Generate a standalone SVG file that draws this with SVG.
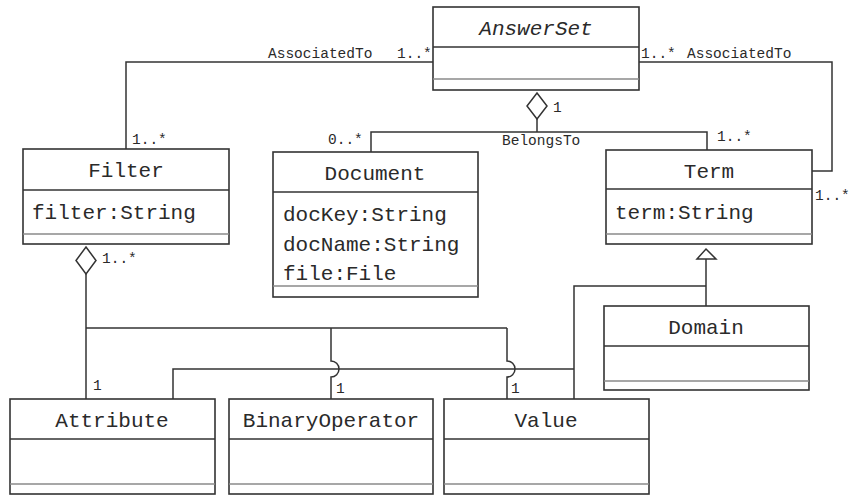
<svg xmlns="http://www.w3.org/2000/svg" width="850" height="496" viewBox="0 0 850 496">
  <style>
    .box { fill: #ffffff; stroke: #333333; stroke-width: 1.6; }
    .div { stroke: #333333; stroke-width: 1.4; }
    .ops { stroke: #8a8a8a; stroke-width: 1.4; }
    .title { font-family: "Liberation Mono", "DejaVu Sans Mono", monospace; font-size: 21px; fill: #2a2a2a; text-anchor: middle; }
    .attr { font-family: "Liberation Mono", "DejaVu Sans Mono", monospace; font-size: 21px; fill: #2a2a2a; }
    .lbl { font-family: "Liberation Mono", "DejaVu Sans Mono", monospace; font-size: 14.5px; fill: #2a2a2a; }
    .edge { fill: none; stroke: #333333; stroke-width: 1.5; }
    .agg { fill: #ffffff; stroke: #333333; stroke-width: 1.5; }
  </style>

  <rect width="850" height="496" fill="#ffffff"/>

  <!-- connectors -->
  <g id="connectors">
    <!-- Filter - AnswerSet association -->
    <path class="edge" d="M126,149 V62 H433"/>
    <!-- AnswerSet - Term association -->
    <path class="edge" d="M639,62 H832 V171 H812"/>
    <!-- BelongsTo aggregation -->
    <path class="edge" d="M537,119 V132"/>
    <path class="edge" d="M371,152 V132 H707 V150"/>
    <polygon class="agg" points="537,93 547,106 537,119 527,106"/>
    <!-- Filter aggregation of Attribute, BinaryOperator, Value -->
    <path class="edge" d="M86,274 V399"/>
    <path class="edge" d="M86,328 H507"/>
    <path class="edge" d="M331,328 V361 A8,8 0 0 1 331,377 V399"/>
    <path class="edge" d="M507,328 V361 A8,8 0 0 1 507,377 V399"/>
    <polygon class="agg" points="86,247 96,260.5 86,274 76,260.5"/>
    <!-- generalization to Term -->
    <path class="edge" d="M706,259 V306"/>
    <path class="edge" d="M706,286 H574 V399"/>
    <path class="edge" d="M574,369 H173 V399"/>
    <polygon class="agg" points="706,249 716,259 697,259"/>

    <!-- multiplicities and role names -->
    <text class="lbl" x="268" y="58">AssociatedTo</text>
    <text class="lbl" x="397" y="58">1..*</text>
    <text class="lbl" x="641" y="58">1..*</text>
    <text class="lbl" x="687" y="58">AssociatedTo</text>
    <text class="lbl" x="132" y="144">1..*</text>
    <text class="lbl" x="328" y="144">0..*</text>
    <text class="lbl" x="553" y="112">1</text>
    <text class="lbl" x="502" y="145">BelongsTo</text>
    <text class="lbl" x="717" y="141">1..*</text>
    <text class="lbl" x="815" y="200">1..*</text>
    <text class="lbl" x="102" y="263">1..*</text>
    <text class="lbl" x="93" y="390">1</text>
    <text class="lbl" x="336" y="393">1</text>
    <text class="lbl" x="511" y="393">1</text>
  </g>

  <g id="AnswerSet">
    <rect class="box" x="433" y="7" width="206" height="83"/>
    <line class="div" x1="433" y1="47" x2="639" y2="47"/>
    <line class="ops" x1="433" y1="79" x2="639" y2="79"/>
    <text class="title" x="536" y="35" font-style="italic">AnswerSet</text>
  </g>

  <g id="Filter">
    <rect class="box" x="23" y="149" width="206" height="95"/>
    <line class="div" x1="23" y1="190" x2="229" y2="190"/>
    <line class="ops" x1="23" y1="234" x2="229" y2="234"/>
    <text class="title" x="126" y="177">Filter</text>
    <text class="attr" x="32" y="219">filter:String</text>
  </g>

  <g id="Document">
    <rect class="box" x="273" y="152" width="205" height="145"/>
    <line class="div" x1="273" y1="192" x2="478" y2="192"/>
    <line class="ops" x1="273" y1="286" x2="478" y2="286"/>
    <text class="title" x="375" y="180">Document</text>
    <text class="attr" x="283" y="221">docKey:String</text>
    <text class="attr" x="283" y="251">docName:String</text>
    <text class="attr" x="283" y="280">file:File</text>
  </g>

  <g id="Term">
    <rect class="box" x="606" y="150" width="206" height="94"/>
    <line class="div" x1="606" y1="189" x2="812" y2="189"/>
    <line class="ops" x1="606" y1="234" x2="812" y2="234"/>
    <text class="title" x="709" y="178">Term</text>
    <text class="attr" x="615" y="219">term:String</text>
  </g>

  <g id="Domain">
    <rect class="box" x="604" y="306" width="205" height="84"/>
    <line class="div" x1="604" y1="346" x2="809" y2="346"/>
    <line class="ops" x1="604" y1="381" x2="809" y2="381"/>
    <text class="title" x="706" y="334">Domain</text>
  </g>

  <g id="Attribute">
    <rect class="box" x="10" y="399" width="205" height="95"/>
    <line class="div" x1="10" y1="439" x2="215" y2="439"/>
    <line class="ops" x1="10" y1="484" x2="215" y2="484"/>
    <text class="title" x="112" y="427">Attribute</text>
  </g>

  <g id="BinaryOperator">
    <rect class="box" x="229" y="399" width="204" height="95"/>
    <line class="div" x1="229" y1="439" x2="433" y2="439"/>
    <line class="ops" x1="229" y1="484" x2="433" y2="484"/>
    <text class="title" x="331" y="427">BinaryOperator</text>
  </g>

  <g id="Value">
    <rect class="box" x="444" y="399" width="205" height="95"/>
    <line class="div" x1="444" y1="439" x2="649" y2="439"/>
    <line class="ops" x1="444" y1="484" x2="649" y2="484"/>
    <text class="title" x="546" y="427">Value</text>
  </g>
</svg>
